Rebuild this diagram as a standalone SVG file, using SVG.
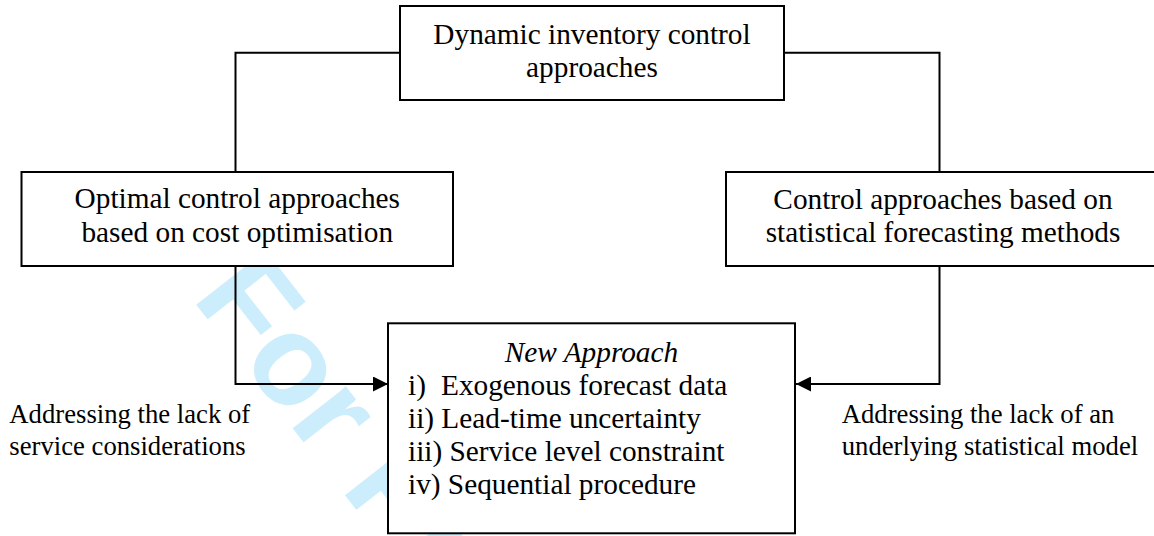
<svg xmlns="http://www.w3.org/2000/svg" width="1154" height="536" viewBox="0 0 1154 536">
<style>
.box{fill:#fff;stroke:#000;stroke-width:2}
.t{font-family:"Liberation Serif","Times New Roman",serif;font-size:29.3px;fill:#000}
.c{text-anchor:middle}
.lbl{font-family:"Liberation Serif","Times New Roman",serif;font-size:26.7px;fill:#000}
.ln{fill:none;stroke:#000;stroke-width:2}
.wm{font-family:"Liberation Sans",Arial,sans-serif;font-weight:bold;font-size:128px;fill:#ccedfb}
</style>
<defs>
<marker id="arr" markerWidth="15" markerHeight="15" refX="15" refY="7.5" orient="auto" markerUnits="userSpaceOnUse">
<path d="M0,0 L15,7.5 L0,15 Z" fill="#000"/>
</marker>
</defs>
<rect width="1154" height="536" fill="#fff"/>
<text class="wm" transform="translate(191,298) rotate(52)">For Peer Review</text>
<g id="connectors">
<path class="ln" d="M400,52.7 H235.5 V172"/>
<path class="ln" d="M784,52.7 H939.5 V172"/>
<path class="ln" d="M235.5,266 V384 H388" marker-end="url(#arr)"/>
<path class="ln" d="M939.5,266 V384 H796" marker-end="url(#arr)"/>
</g>
<g id="dynamic">
<rect class="box" x="400" y="6" width="384" height="94"/>
<text class="t c" x="592" y="44">Dynamic inventory control</text>
<text class="t c" x="592" y="77">approaches</text>
</g>
<g id="optimal">
<rect class="box" x="21.5" y="172" width="431.5" height="94"/>
<text class="t c" x="237.3" y="208">Optimal control approaches</text>
<text class="t c" x="237.3" y="241.5">based on cost optimisation</text>
</g>
<g id="statistical">
<rect class="box" x="726" y="172" width="434" height="94"/>
<text class="t c" x="943" y="209">Control approaches based on</text>
<text class="t c" x="943" y="241.7">statistical forecasting methods</text>
</g>
<g id="new">
<rect class="box" x="388" y="323.3" width="407" height="210"/>
<text class="t c" x="591.5" y="362" font-style="italic">New Approach</text>
<text class="t" x="408" y="395">i)<tspan x="441">Exogenous forecast data</tspan></text>
<text class="t" x="408" y="428">ii) Lead-time uncertainty</text>
<text class="t" x="408" y="461">iii) Service level constraint</text>
<text class="t" x="408" y="494">iv) Sequential procedure</text>
</g>
<g id="label-left">
<text class="lbl" x="9.3" y="423.3">Addressing the lack of</text>
<text class="lbl" x="9.3" y="455">service considerations</text>
</g>
<g id="label-right">
<text class="lbl" x="841.7" y="423.3">Addressing the lack of an</text>
<text class="lbl" x="841.7" y="455">underlying statistical model</text>
</g>
</svg>
